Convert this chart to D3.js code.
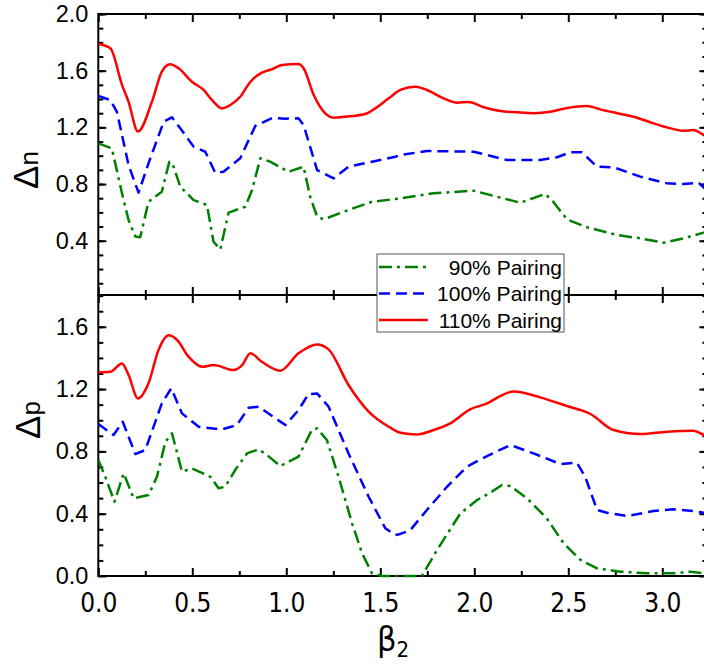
<!DOCTYPE html>
<html>
<head>
<meta charset="utf-8">
<script src="https://cdn.jsdelivr.net/npm/d3@7"></script>
<style>
  body { margin: 0; background: #fff; }
  svg { display: block; }
</style>
</head>
<body>
<div id="chart"></div>
<script>
// ---- data: [beta2, gap] ----
var nPair90 = [[0,1.087],[0.072,1.052],[0.126,0.735],[0.161,0.546],[0.197,0.43],[0.223,0.424],[0.267,0.675],[0.338,0.746],[0.378,0.958],[0.401,0.922],[0.436,0.781],[0.507,0.687],[0.578,0.652],[0.613,0.393],[0.649,0.339],[0.693,0.598],[0.782,0.64],[0.818,0.758],[0.862,0.982],[0.914,0.958],[1.012,0.887],[1.092,0.922],[1.127,0.711],[1.164,0.57],[1.199,0.551],[1.331,0.617],[1.456,0.675],[1.607,0.699],[1.784,0.735],[1.997,0.753],[2.12,0.711],[2.245,0.668],[2.377,0.73],[2.42,0.675],[2.493,0.551],[2.6,0.495],[2.76,0.44],[2.883,0.417],[3.007,0.386],[3.113,0.417],[3.22,0.457],[3.26,0.47]];
var nPair100 = [[0,1.421],[0.064,1.393],[0.099,1.31],[0.161,0.934],[0.214,0.739],[0.267,0.946],[0.348,1.24],[0.392,1.271],[0.436,1.193],[0.507,1.064],[0.569,1.028],[0.622,0.88],[0.666,0.887],[0.755,0.982],[0.835,1.21],[0.924,1.266],[0.995,1.261],[1.065,1.264],[1.092,1.217],[1.164,0.899],[1.252,0.84],[1.331,0.922],[1.456,0.958],[1.58,0.993],[1.607,1.005],[1.748,1.033],[1.997,1.028],[2.173,0.97],[2.35,0.97],[2.44,0.989],[2.51,1.024],[2.572,1.024],[2.653,0.922],[2.741,0.918],[2.883,0.852],[3.025,0.805],[3.113,0.80],[3.193,0.81],[3.225,0.77],[3.26,0.73]];
var nPair110 = [[0,1.788],[0.064,1.758],[0.126,1.50],[0.161,1.38],[0.211,1.17],[0.285,1.38],[0.338,1.593],[0.382,1.645],[0.427,1.617],[0.498,1.522],[0.56,1.464],[0.605,1.393],[0.658,1.334],[0.702,1.358],[0.755,1.416],[0.809,1.522],[0.87,1.586],[0.924,1.61],[0.977,1.64],[1.065,1.647],[1.092,1.617],[1.146,1.428],[1.206,1.30],[1.252,1.268],[1.35,1.28],[1.42,1.294],[1.473,1.334],[1.545,1.405],[1.607,1.464],[1.686,1.487],[1.748,1.464],[1.837,1.405],[1.908,1.374],[1.97,1.379],[2.05,1.342],[2.138,1.315],[2.227,1.306],[2.315,1.30],[2.405,1.31],[2.493,1.337],[2.6,1.351],[2.67,1.327],[2.76,1.30],[2.848,1.275],[2.936,1.236],[3.025,1.20],[3.113,1.176],[3.166,1.181],[3.22,1.146],[3.26,1.12]];

var pPair90 = [[0,0.745],[0.037,0.637],[0.086,0.477],[0.135,0.659],[0.188,0.499],[0.267,0.52],[0.312,0.637],[0.357,0.862],[0.392,0.916],[0.445,0.67],[0.498,0.691],[0.596,0.637],[0.64,0.563],[0.675,0.573],[0.728,0.68],[0.791,0.787],[0.853,0.813],[0.897,0.777],[0.968,0.706],[1.065,0.766],[1.136,0.937],[1.164,0.948],[1.216,0.873],[1.278,0.637],[1.35,0.338],[1.403,0.146],[1.456,0.017],[1.509,0],[1.721,0],[1.802,0.167],[1.926,0.402],[2.015,0.488],[2.085,0.535],[2.147,0.584],[2.192,0.578],[2.28,0.499],[2.386,0.37],[2.475,0.21],[2.565,0.103],[2.653,0.049],[2.776,0.028],[2.918,0.017],[3.06,0.017],[3.149,0.028],[3.22,0.017],[3.26,0.02]];
var pPair100 = [[0,0.976],[0.081,0.905],[0.13,0.99],[0.197,0.783],[0.25,0.809],[0.338,1.108],[0.388,1.205],[0.445,1.044],[0.534,0.958],[0.658,0.941],[0.737,0.969],[0.8,1.08],[0.853,1.087],[0.995,0.969],[1.065,1.065],[1.118,1.168],[1.164,1.172],[1.225,1.087],[1.331,0.787],[1.438,0.509],[1.527,0.306],[1.58,0.263],[1.607,0.27],[1.66,0.295],[1.748,0.424],[1.855,0.573],[1.961,0.702],[2.068,0.77],[2.192,0.841],[2.315,0.787],[2.458,0.719],[2.546,0.727],[2.59,0.637],[2.653,0.424],[2.706,0.406],[2.813,0.385],[2.954,0.417],[3.06,0.428],[3.166,0.417],[3.22,0.406],[3.26,0.40]];
var pPair110 = [[0,1.307],[0.064,1.311],[0.126,1.365],[0.161,1.29],[0.211,1.14],[0.267,1.237],[0.32,1.45],[0.374,1.545],[0.419,1.515],[0.48,1.408],[0.552,1.343],[0.613,1.354],[0.72,1.322],[0.765,1.354],[0.809,1.43],[0.87,1.375],[0.968,1.318],[1.065,1.43],[1.164,1.487],[1.225,1.455],[1.331,1.226],[1.438,1.055],[1.545,0.958],[1.607,0.92],[1.695,0.909],[1.784,0.937],[1.872,0.98],[1.978,1.07],[2.068,1.108],[2.138,1.155],[2.21,1.185],[2.35,1.147],[2.493,1.091],[2.618,1.04],[2.741,0.937],[2.883,0.911],[3.025,0.926],[3.166,0.933],[3.22,0.905],[3.26,0.88]];

var seriesNames = ["90% Pairing", "100% Pairing", "110% Pairing"];
var xTicks = [0, 0.5, 1.0, 1.5, 2.0, 2.5, 3.0];
var nTicks = [0.4, 0.8, 1.2, 1.6, 2.0];
var pTicks = [0.0, 0.4, 0.8, 1.2, 1.6];

// ---- layout ----
var width = 704, height = 665;
var left = 98.3, right = 707.4;
var topN = 14, mid = 295, bottomP = 576;

var svg = d3.select("#chart").append("svg")
    .attr("width", width)
    .attr("height", height);

var x = d3.scaleLinear().domain([0, 3.24]).range([left, right]);
var yN = d3.scaleLinear().domain([0.017, 2.0]).range([mid, topN]);
var yP = d3.scaleLinear().domain([0, 1.804]).range([bottomP, mid]);

var color = d3.scaleOrdinal().domain(seriesNames).range(["#008000", "#0000ff", "#ff0000"]);
var dash = d3.scaleOrdinal().domain(seriesNames).range(["13,5,3,5", "11,6", null]);

var xMinor = d3.range(0.25, 3.3, 0.5);
var nMinor = d3.range(0.1, 2.05, 0.1);
var pMinor = d3.range(0.1, 1.85, 0.1);

var tickFont = "'Liberation Sans', Arial, sans-serif";
var narrowFont = "'Liberation Sans Narrow', 'DejaVu Sans Condensed', sans-serif";

function noDomain(g) { g.select(".domain").remove(); }

function drawAxes(y, yTicks, yMinor, showX) {
    var y0 = y.range()[0], y1 = y.range()[1];
    // left
    svg.append("g").attr("transform", "translate(" + left + ",0)")
        .call(d3.axisLeft(y).tickValues(yTicks).tickSize(-8).tickPadding(10).tickFormat(d3.format(".1f")))
        .call(noDomain)
        .call(g => g.selectAll("text").attr("font-size", 23.5).attr("font-family", tickFont).attr("fill", "#000"));
    svg.append("g").attr("transform", "translate(" + left + ",0)")
        .call(d3.axisLeft(y).tickValues(yMinor).tickSize(-5).tickFormat(""))
        .call(noDomain);
    // right
    svg.append("g").attr("transform", "translate(" + right + ",0)")
        .call(d3.axisRight(y).tickValues(yTicks).tickSize(-8).tickFormat(""))
        .call(noDomain);
    svg.append("g").attr("transform", "translate(" + right + ",0)")
        .call(d3.axisRight(y).tickValues(yMinor).tickSize(-5).tickFormat(""))
        .call(noDomain);
    // top (ticks down)
    svg.append("g").attr("transform", "translate(0," + y1 + ")")
        .call(d3.axisTop(x).tickValues(xTicks).tickSize(-8).tickFormat(""))
        .call(noDomain);
    svg.append("g").attr("transform", "translate(0," + y1 + ")")
        .call(d3.axisTop(x).tickValues(xMinor).tickSize(-5).tickFormat(""))
        .call(noDomain);
    // bottom (ticks up)
    var bx = svg.append("g").attr("transform", "translate(0," + y0 + ")")
        .call(d3.axisBottom(x).tickValues(xTicks).tickSize(-8).tickPadding(18)
            .tickFormat(showX ? d3.format(".1f") : ""))
        .call(noDomain);
    bx.selectAll("text")
        .attr("font-size", 26)
        .attr("font-family", narrowFont)
        .attr("fill", "#000");
    svg.append("g").attr("transform", "translate(0," + y0 + ")")
        .call(d3.axisBottom(x).tickValues(xMinor).tickSize(-5).tickFormat(""))
        .call(noDomain);
    // frame
    svg.append("rect")
        .attr("x", left).attr("y", y1)
        .attr("width", right - left).attr("height", y0 - y1)
        .attr("fill", "none").attr("stroke", "#000").attr("stroke-width", 2);
}

drawAxes(yN, nTicks, nMinor, false);
drawAxes(yP, pTicks, pMinor, true);
svg.selectAll(".tick line").attr("stroke", "#000").attr("stroke-width", 2);

// clip paths for each panel
var defs = svg.append("defs");
defs.append("clipPath").attr("id", "clipN").append("rect")
    .attr("x", left).attr("y", topN).attr("width", right - left).attr("height", mid - topN);
defs.append("clipPath").attr("id", "clipP").append("rect")
    .attr("x", left).attr("y", mid).attr("width", right - left).attr("height", bottomP - mid + 2);

function drawLines(y, list, clip) {
    var g = svg.append("g").attr("clip-path", "url(#" + clip + ")");
    list.forEach(function(s, i) {
        var name = seriesNames[i];
        var line = d3.line()
            .x(d => x(d[0]))
            .y(d => y(d[1]))
            .curve(i == 2 ? d3.curveMonotoneX : d3.curveLinear);
        g.append("path")
            .datum(s)
            .attr("d", line)
            .attr("fill", "none")
            .attr("stroke", color(name))
            .attr("stroke-width", 2.5)
            .attr("stroke-dasharray", dash(name))
            .attr("stroke-linejoin", "round");
    });
}

drawLines(yN, [nPair90, nPair100, nPair110], "clipN");
drawLines(yP, [pPair90, pPair100, pPair110], "clipP");

// legend
var legend = svg.append("g").attr("transform", "translate(377,254)");
legend.append("rect")
    .attr("width", 187).attr("height", 78)
    .attr("fill", "#fff").attr("stroke", "#555").attr("stroke-width", 1);
seriesNames.forEach(function(name, i) {
    var ly = 13 + i * 26.5;
    legend.append("line")
        .attr("x1", 2).attr("x2", 51).attr("y1", ly).attr("y2", ly)
        .attr("stroke", color(name)).attr("stroke-width", 2.5)
        .attr("stroke-dasharray", dash(name));
    legend.append("text")
        .attr("x", 185).attr("y", ly + 7.5)
        .attr("text-anchor", "end")
        .attr("font-size", 21)
        .attr("font-family", tickFont)
        .text(name);
});

// axis titles
var labFont = "'Liberation Sans', Arial, sans-serif";
var tn = svg.append("text")
    .attr("transform", "translate(38,170) rotate(-90)")
    .attr("text-anchor", "middle")
    .attr("font-family", labFont);
tn.append("tspan").attr("font-size", 35).text("Δ");
tn.append("tspan").attr("font-size", 26).text("n");

var tp = svg.append("text")
    .attr("transform", "translate(40,420) rotate(-90)")
    .attr("text-anchor", "middle")
    .attr("font-family", labFont);
tp.append("tspan").attr("font-size", 35).text("Δ");
tp.append("tspan").attr("font-size", 26).text("p");

var tb = svg.append("text")
    .attr("x", 393).attr("y", 651)
    .attr("text-anchor", "middle")
    .attr("font-family", narrowFont);
tb.append("tspan").attr("font-size", 34).text("β");
tb.append("tspan").attr("font-size", 22).attr("dy", 6).text("2");
</script>
</body>
</html>
